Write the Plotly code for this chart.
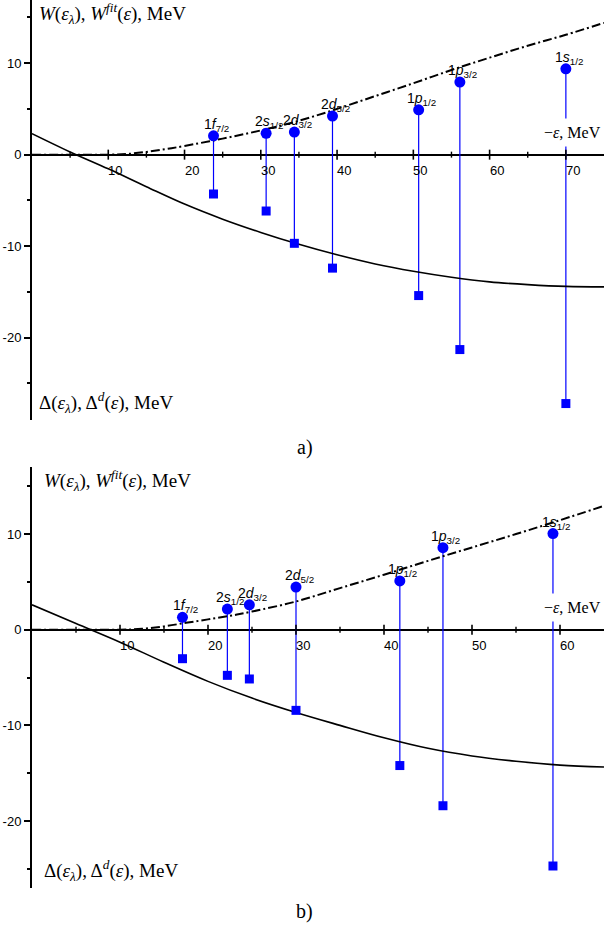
import plotly.graph_objects as go

# ---------------- data ----------------
level_labels = ["1<i>f</i><sub>7/2</sub>", "2<i>s</i><sub>1/2</sub>", "2<i>d</i><sub>3/2</sub>",
                "2<i>d</i><sub>5/2</sub>", "1<i>p</i><sub>1/2</sub>", "1<i>p</i><sub>3/2</sub>",
                "1<i>s</i><sub>1/2</sub>"]

# panel a)
a_eps = [23.8, 30.7, 34.4, 39.4, 50.7, 56.1, 70.0]
a_W = [2.06, 2.33, 2.47, 4.22, 4.9, 7.93, 9.38]
a_Delta = [-4.3, -6.16, -9.69, -12.4, -15.4, -21.3, -27.2]
a_fit_eps = [0, 5, 10, 12.5, 15, 17.5, 20, 25, 30, 35, 40, 45, 50, 55, 60, 65, 70, 75]
a_Wfit = [0, 0, 0, 0.08, 0.3, 0.6, 0.95, 1.75, 2.65, 3.7, 5.0, 6.4, 7.8, 9.25, 10.6, 11.9, 13.1, 14.4]
a_d_eps = [0, 5, 10, 15, 20, 25, 30, 35, 40, 45, 50, 55, 60, 65, 70, 75]
a_Delta_d = [2.3, 0.3, -1.55, -3.5, -5.4, -7.05, -8.5, -9.8, -10.95, -11.95, -12.75, -13.4,
             -13.9, -14.2, -14.4, -14.45]

# panel b)
b_eps = [17.1, 22.2, 24.7, 30.0, 41.8, 46.7, 59.2]
b_W = [1.3, 2.16, 2.6, 4.46, 5.1, 8.57, 10.05]
b_Delta = [-3.03, -4.77, -5.15, -8.43, -14.2, -18.4, -24.7]
b_fit_eps = [0, 5, 10, 12.5, 15, 17.5, 20, 22.5, 25, 30, 35, 40, 45, 50, 55, 60, 65]
b_Wfit = [0, 0, 0, 0.1, 0.35, 0.72, 1.08, 1.45, 1.9, 2.95, 4.35, 5.75, 7.2, 8.6, 10.0, 11.45, 12.95]
b_d_eps = [0, 5, 10, 15, 20, 25, 30, 35, 40, 45, 50, 55, 60, 65]
b_Delta_d = [2.6, 0.65, -1.3, -3.4, -5.4, -7.15, -8.65, -10.0, -11.3, -12.4, -13.2, -13.75,
             -14.15, -14.35]

a_x_major = [10, 20, 30, 40, 50, 60, 70]
a_x_minor = [5, 15, 25, 35, 45, 55, 65]
b_x_major = [10, 20, 30, 40, 50, 60]
b_x_minor = [5, 15, 25, 35, 45, 55]
y_tickvals = [-20, -10, 0, 10]
y_ticktext = ["-20", "-10", "0", "10"]

a_xrange = [0, 75]
a_yrange = [-29.0, 16.9]
b_xrange = [0, 65]
b_yrange = [-27.0, 17.0]

# ---------------- figure ----------------
SANS = "Liberation Sans, Arial, sans-serif"
SERIF = "Liberation Serif, Times New Roman, serif"
BLUE = "#0000ff"

fig = go.Figure()


def add_panel(xa, ya, eps, W, D, fit_eps, Wfit, d_eps, Dd):
    sx, sy = [], []
    for e, w, d in zip(eps, W, D):
        sx += [e, e, None]
        sy += [w, d, None]
    fig.add_trace(go.Scatter(x=sx, y=sy, mode="lines", xaxis=xa, yaxis=ya,
                             line=dict(color=BLUE, width=1.2), hoverinfo="skip"))
    fig.add_trace(go.Scatter(x=d_eps, y=Dd, mode="lines", xaxis=xa, yaxis=ya,
                             line=dict(color="black", width=1.6, shape="spline", smoothing=1.0)))
    fig.add_trace(go.Scatter(x=fit_eps, y=Wfit, mode="lines", xaxis=xa, yaxis=ya,
                             line=dict(color="black", width=2, shape="spline", smoothing=1.0,
                                       dash="9px,3px,2px,3px")))
    fig.add_trace(go.Scatter(x=eps, y=W, mode="markers", xaxis=xa, yaxis=ya,
                             marker=dict(symbol="circle", size=11, color=BLUE)))
    fig.add_trace(go.Scatter(x=eps, y=D, mode="markers", xaxis=xa, yaxis=ya,
                             marker=dict(symbol="square", size=9, color=BLUE)))


add_panel("x", "y", a_eps, a_W, a_Delta, a_fit_eps, a_Wfit, a_d_eps, a_Delta_d)
add_panel("x2", "y2", b_eps, b_W, b_Delta, b_fit_eps, b_Wfit, b_d_eps, b_Delta_d)

xax = dict(showline=False, showgrid=False, zeroline=False, showticklabels=False, ticks="")
yax = dict(showline=True, linewidth=2, linecolor="black", showgrid=False,
           zeroline=True, zerolinecolor="black", zerolinewidth=2,
           ticks="outside", ticklen=6, tickwidth=1.5, tickcolor="black",
           tickmode="array", tickvals=y_tickvals, ticktext=y_ticktext,
           tickfont=dict(family=SANS, size=13, color="black"),
           minor=dict(dtick=5, tick0=0, ticks="outside", ticklen=3, tickwidth=1.5,
                      tickcolor="black"))

fig.update_layout(
    width=604, height=933,
    margin=dict(l=32, r=0, t=0, b=45),
    plot_bgcolor="white", paper_bgcolor="white",
    showlegend=False,
    xaxis=dict(domain=[0, 1], anchor="y", range=a_xrange, **xax),
    yaxis=dict(domain=[0.527, 1], anchor="x", range=a_yrange, **yax),
    xaxis2=dict(domain=[0, 1], anchor="y2", range=b_xrange, **xax),
    yaxis2=dict(domain=[0, 0.474], anchor="x2", range=b_yrange, **yax),
)

shapes = []
annotations = []
for xa, ya, majors, minors in (("x", "y", a_x_major, a_x_minor), ("x2", "y2", b_x_major, b_x_minor)):
    for t in majors:
        shapes.append(dict(type="line", xref=xa, yref=ya, x0=t, x1=t, ysizemode="pixel",
                           yanchor=0, y0=-5, y1=5, line=dict(color="black", width=1.6)))
        annotations.append(dict(x=t, y=0, xref=xa, yref=ya, text=str(t), showarrow=False,
                                xanchor="left", yanchor="top", xshift=-2, yshift=-6,
                                font=dict(family=SANS, size=13, color="black")))
    for t in minors:
        shapes.append(dict(type="line", xref=xa, yref=ya, x0=t, x1=t, ysizemode="pixel",
                           yanchor=0, y0=-3, y1=3, line=dict(color="black", width=1.4)))

for xa, ya, eps, W in (("x", "y", a_eps, a_W), ("x2", "y2", b_eps, b_W)):
    for lab, e, w in zip(level_labels, eps, W):
        annotations.append(dict(x=e, y=w, xref=xa, yref=ya, text=lab, showarrow=False,
                                xanchor="center", yanchor="bottom", xshift=3, yshift=0,
                                font=dict(family=SANS, size=14, color="black")))

W_title = "<i>W</i>(<i>ε</i><sub><i>λ</i></sub>), <i>W</i><sup><i>fit</i></sup>(<i>ε</i>), MeV"
D_title = "Δ(<i>ε</i><sub><i>λ</i></sub>), Δ<sup><i>d</i></sup>(<i>ε</i>), MeV"
E_title = "−<i>ε</i>, MeV"

for xa, ya, xl in (("x", "y", 0.008), ("x2", "y2", 0.017)):
    annotations.append(dict(x=xl, y=1, xref=xa + " domain", yref=ya + " domain", text=W_title,
                            showarrow=False, xanchor="left", yanchor="top", yshift=2,
                            font=dict(family=SERIF, size=19, color="black")))
    annotations.append(dict(x=xl, y=0, xref=xa + " domain", yref=ya + " domain", text=D_title,
                            showarrow=False, xanchor="left", yanchor="bottom", yshift=2,
                            font=dict(family=SERIF, size=19, color="black")))
    annotations.append(dict(x=1, y=0, xref=xa + " domain", yref=ya, text=E_title,
                            showarrow=False, xanchor="right", yanchor="bottom", xshift=3, yshift=8,
                            bgcolor="white", borderpad=5,
                            font=dict(family=SERIF, size=16, color="black")))

annotations.append(dict(x=0.477, y=0.4966, xref="paper", yref="paper", text="a)", showarrow=False,
                        xanchor="center", yanchor="middle", font=dict(family=SERIF, size=20, color="black")))
annotations.append(dict(x=0.477, y=-0.027, xref="paper", yref="paper", text="b)", showarrow=False,
                        xanchor="center", yanchor="middle", font=dict(family=SERIF, size=20, color="black")))

fig.update_layout(shapes=shapes, annotations=annotations)
fig.write_html("out.html", config={"displayModeBar": False},
               post_script="document.body.style.margin='0';document.body.style.overflow='hidden';")
